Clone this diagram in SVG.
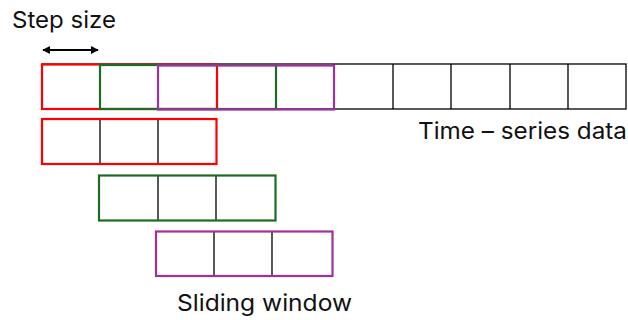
<svg xmlns="http://www.w3.org/2000/svg" width="628" height="320" viewBox="0 0 628 320">
<defs>
<marker id="ah" viewBox="0 0 10 10" refX="9" refY="5" markerWidth="8" markerHeight="8" orient="auto-start-reverse" markerUnits="userSpaceOnUse">
<path d="M0,0 L10,5 L0,10 z" fill="#000"/>
</marker>
<style>
.grid{fill:none;stroke:#000;stroke-width:1.3}
.red{fill:none;stroke:#FF0000;stroke-width:2.2}
.grn{fill:none;stroke:#1E6B24;stroke-width:2.2}
.pur{fill:none;stroke:#A0309E;stroke-width:2.2}
.t{font-family:"Inter","Liberation Sans",sans-serif;font-size:23px;fill:#111}
</style>
</defs>
<rect width="628" height="320" fill="#fff"/>
<g id="series">
<rect class="grid" x="42" y="64" width="584" height="45"/>
<path class="grid" d="M100,64V109M158,64V109M217,64V109M276,64V109M334,64V109M393,64V109M451,64V109M510,64V109M568,64V109"/>
<rect class="red" x="42" y="64.5" width="175" height="44.5"/>
<rect class="grn" x="100" y="65" width="176" height="44"/>
<rect class="pur" x="158" y="65.5" width="176" height="44"/>
</g>
<g id="window1">
<path class="grid" d="M100,119V164M158,119V164"/>
<rect class="red" x="42" y="119" width="174.5" height="45"/>
</g>
<g id="window2">
<path class="grid" d="M158,175V221M216,175V221"/>
<rect class="grn" x="99" y="175.5" width="176.5" height="45"/>
</g>
<g id="window3">
<path class="grid" d="M214,231V276M272,231V276"/>
<rect class="pur" x="156" y="231.5" width="176.5" height="44.5"/>
</g>
<g id="connectors">
<line x1="43" y1="50" x2="98" y2="50" stroke="#000" stroke-width="2" marker-start="url(#ah)" marker-end="url(#ah)"/>
</g>
<text class="t" x="12" y="28" textLength="104" lengthAdjust="spacingAndGlyphs">Step size</text>
<text class="t" x="418" y="139" textLength="209" lengthAdjust="spacingAndGlyphs">Time – series data</text>
<text class="t" x="177" y="311" textLength="175" lengthAdjust="spacingAndGlyphs">Sliding window</text>
</svg>
